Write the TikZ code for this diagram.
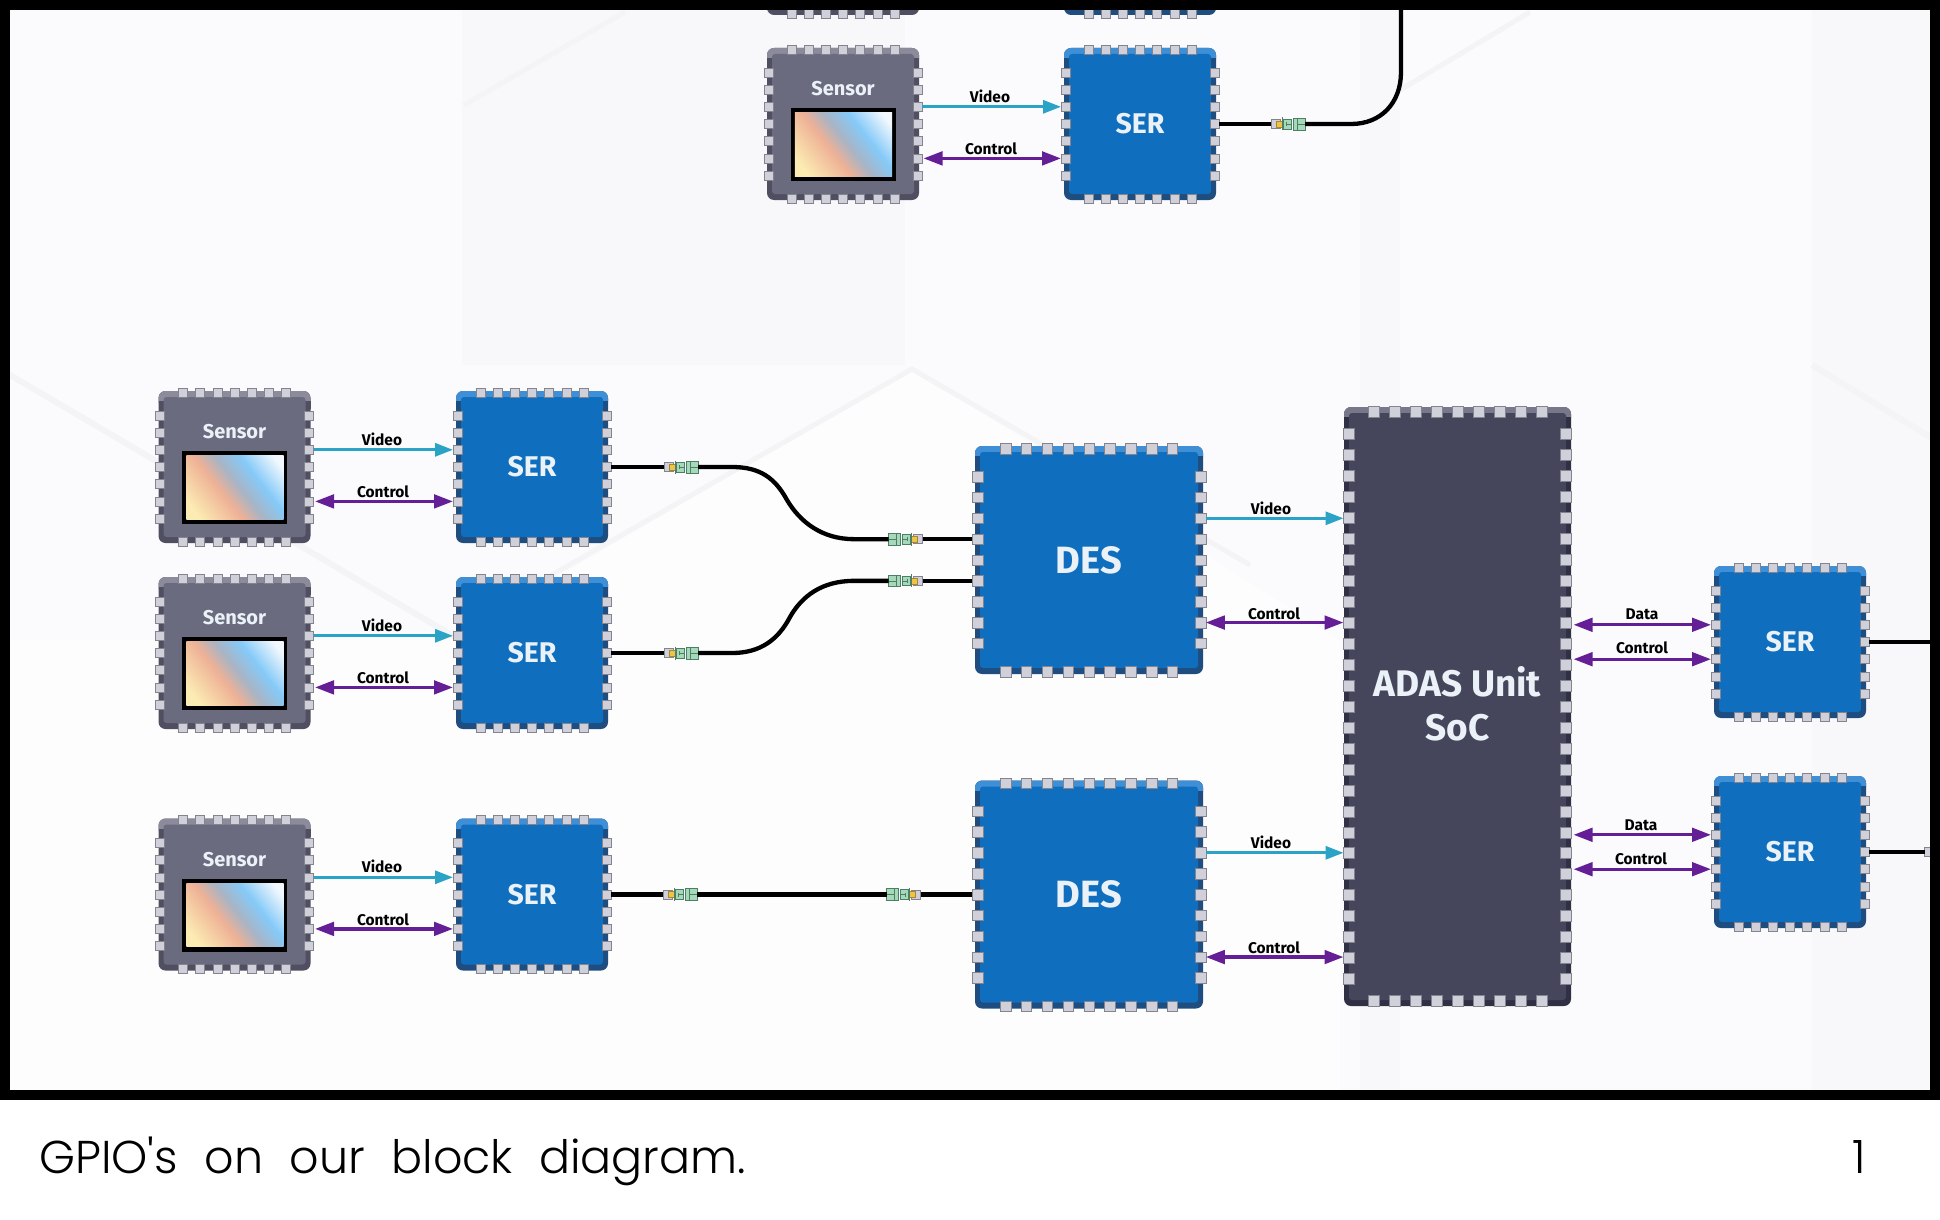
\documentclass[tikz,border=0pt]{standalone}
\usepackage{fontspec}
\setmainfont{Fira Sans}
\newfontfamily\capfont{Poppins Light}[WordSpace=2.1]
\usetikzlibrary{arrows.meta}
\definecolor{bgbase}{HTML}{FBFBFD}
\definecolor{bgfacet}{HTML}{F8F8FB}
\definecolor{bgsoft}{HTML}{FDFDFE}
\definecolor{bgridge}{HTML}{F4F4F7}
\definecolor{pinfill}{HTML}{CFD0D9}
\definecolor{pinedge}{HTML}{83848E}
\definecolor{teal}{HTML}{2AA3C6}
\definecolor{purp}{HTML}{651F96}
\definecolor{bluemain}{HTML}{0F6FBE}
\definecolor{blueedge}{HTML}{1F4D80}
\definecolor{bluehi}{HTML}{3F8FD6}
\definecolor{greymain}{HTML}{6B6B80}
\definecolor{greyedge}{HTML}{4F4F61}
\definecolor{greyhi}{HTML}{8B8B9B}
\definecolor{socmain}{HTML}{45465C}
\definecolor{socedge}{HTML}{2F3044}
\definecolor{sochi}{HTML}{77788A}
\definecolor{labelwhite}{HTML}{EAF1F7}
\definecolor{gA}{HTML}{FCEBB2}
\definecolor{gB}{HTML}{EEB196}
\definecolor{gC}{HTML}{A9B4C4}
\definecolor{gD}{HTML}{85CAF8}
\definecolor{gE}{HTML}{F2F8FD}
\definecolor{plugg}{HTML}{A6D9BA}
\definecolor{plugy}{HTML}{EFC347}
\definecolor{plugl}{HTML}{4D7F66}
\pgfdeclarehorizontalshading{screengrad}{100bp}{color(0bp)=(gA); color(22bp)=(gA); color(42bp)=(gB); color(52bp)=(gC); color(64bp)=(gD); color(80bp)=(gE); color(100bp)=(gE)}
\tikzset{
  x=1pt,y=-1pt,
  pinbox/.style={rectangle,fill=pinfill,draw=pinedge,line width=.5pt,inner sep=0pt,outer sep=0pt},
  chipouter/.style={rectangle,rounded corners=7pt,inner sep=0pt,outer sep=0pt},
  plugbox/.style={rectangle,inner sep=0pt,outer sep=0pt,minimum width=34pt,minimum height=12pt},
  videoarrow/.style={draw=teal,line width=3pt,-{Triangle[length=18pt,width=13pt]}},
  ctrlarrow/.style={draw=purp,line width=3.3pt,{Triangle[length=19pt,width=13.5pt]}-{Triangle[length=19pt,width=13.5pt]}},
  cable/.style={draw=black,line width=4.3pt},
  wirelabel/.style={font=\fontsize{15.5}{17}\selectfont\bfseries,text=black,inner sep=0pt},
  chiplabel/.style={font=\fontsize{28.5}{30}\selectfont\bfseries,text=labelwhite,inner sep=0pt,align=center},
  deslabel/.style={font=\fontsize{38}{40}\selectfont\bfseries,text=labelwhite,inner sep=0pt,align=center},
  soclabel/.style={font=\fontsize{37}{40}\selectfont\bfseries,text=labelwhite,inner sep=0pt,align=center},
  sensorlabel/.style={font=\fontsize{20}{22}\selectfont\bfseries,text=labelwhite,inner sep=0pt},
  caption/.style={font=\capfont\fontsize{46}{50}\selectfont,text=black,inner sep=0pt,anchor=base west},
}
% #1 name #2 cx #3 cy #4 w #5 h #6 n top pins #7 n side pins #8 horizontal step #9 vertical step
\newcommand{\chipgeneric}[9]{%
  \node[chipouter,fill=\colE,minimum width=#4,minimum height=#5] (#1) at (#2,#3) {};
  \fill[\colH,rounded corners=7pt] (#1.north west) rectangle ([yshift=-18pt]#1.north east);
  \fill[\colE] ([yshift=-10pt]#1.north west) rectangle ([yshift=-18pt]#1.north east);
  \fill[\colM,rounded corners=3pt] ([xshift=5pt,yshift=-6pt]#1.north west) rectangle ([xshift=-5pt,yshift=6pt]#1.south east);
  \foreach \i in {1,...,#6}{%
    \pgfmathsetmacro\pxx{#2+(\i-(#6+1)/2)*#8}
    \node[pinbox,minimum size=\pinsz] (#1-T\i) at (\pxx,#3-\pinoffy) {};
    \node[pinbox,minimum size=\pinsz] (#1-B\i) at (\pxx,#3+\pinoffy) {};
  }
  \foreach \i in {1,...,#7}{%
    \pgfmathsetmacro\pyy{#3+(\i-(#7+1)/2)*#9}
    \node[pinbox,minimum size=\pinsz] (#1-L\i) at (#2-\pinoffx,\pyy) {};
    \node[pinbox,minimum size=\pinsz] (#1-R\i) at (#2+\pinoffx,\pyy) {};
  }
}
\newcommand{\serblank}[3]{% name cx cy
  \def\colE{blueedge}\def\colH{bluehi}\def\colM{bluemain}
  \def\pinsz{9pt}\def\pinoffx{74.5}\def\pinoffy{74.5}
  \chipgeneric{#1}{#2}{#3}{152pt}{152pt}{7}{7}{17.2}{17.2}
}
\newcommand{\serchip}[3]{%
  \serblank{#1}{#2}{#3}
  \node[chiplabel] (#1-text) at (#2,#3) {SER};
}
\newcommand{\deschip}[3]{%
  \def\colE{blueedge}\def\colH{bluehi}\def\colM{bluemain}
  \def\pinsz{10.5pt}\def\pinoffx{111.5}\def\pinoffy{111.5}
  \chipgeneric{#1}{#2}{#3}{228pt}{228pt}{9}{9}{20.85}{20.85}
  \node[deslabel] (#1-text) at (#2,#3) {DES};
}
\newcommand{\sensorblank}[3]{%
  \def\colE{greyedge}\def\colH{greyhi}\def\colM{greymain}
  \def\pinsz{9pt}\def\pinoffx{74.5}\def\pinoffy{74.5}
  \chipgeneric{#1}{#2}{#3}{152pt}{152pt}{7}{7}{17.2}{17.2}
}
\newcommand{\sensorchip}[3]{%
  \sensorblank{#1}{#2}{#3}
  \node[sensorlabel] (#1-text) at (#2,#3-35) {Sensor};
  \node[rectangle,fill=black,inner sep=0pt,minimum width=105pt,minimum height=73pt] (#1-screen) at (#2,#3+20.5) {};
  \shade[shading=screengrad,shading angle=38] ([xshift=4.5pt,yshift=-5pt]#1-screen.north west) rectangle ([xshift=-3.5pt,yshift=5pt]#1-screen.south east);
}
\newcommand{\plugpart}[4]{% name x y dir
  \node[plugbox] (#1) at (#2,#3) {};
  \begin{scope}[shift={(#2,#3)},xscale=#4,line width=.5pt]
    \filldraw[fill=pinfill,draw=pinedge] (-17,-4.5) rectangle (-8,4.5);
    \filldraw[fill=plugy,draw=plugy!70!black] (-11.5,-3) rectangle (-5.5,3);
    \filldraw[fill=plugg,draw=plugl] (-4.5,-4.8) rectangle (3,4.8);
    \draw[plugl] (-1.5,0) -- (3,0) (-1.5,-2) -- (-1.5,2);
    \draw[plugl,line width=.9pt] (-5.5,-6.5) -- (-5.5,6.5);
    \filldraw[fill=plugg,draw=plugl] (5,-5.8) rectangle (17,5.8);
    \draw[plugl] (9,-5.8) -- (9,5.8) (9,0) -- (17,0);
  \end{scope}
}
\begin{document}
\begin{tikzpicture}
\useasboundingbox (0,0) rectangle (1940,1220);
% background panel
\fill[bgbase] (0,0) rectangle (1940,1100);
\fill[bgfacet] (462,10) rectangle (905,365);
\fill[bgfacet] (1360,10) rectangle (1400,1090);
\fill[bgfacet] (1812,10) rectangle (1930,1090);
\fill[bgsoft] (10,640) -- (450,640) -- (912,369) -- (1340,640) -- (1340,1090) -- (10,1090) -- cycle;
\draw[bgridge,line width=6pt] (5,372) -- (460,640);
\draw[bgridge,line width=5pt] (480,616) -- (912,369) -- (1250,565);
\draw[bgridge,line width=6pt] (1812,365) -- (1935,440);
\draw[bgridge,line width=5pt] (464,105) -- (625,12);
\draw[bgridge,line width=5pt] (1400,90) -- (1530,12);
% chips
\sensorblank{sT}{843}{-61}
\serblank{serT}{1140}{-61}
\sensorchip{s0}{843}{124}
\serchip{ser0}{1140}{124}
\sensorchip{s1}{234.5}{467}
\serchip{ser1}{532}{467}
\sensorchip{s2}{234.5}{653}
\serchip{ser2}{532}{653}
\sensorchip{s3}{234.5}{894.5}
\serchip{ser3}{532}{894.5}
\deschip{des1}{1089}{560}
\deschip{des2}{1089}{894.5}
\def\colE{socedge}\def\colH{sochi}\def\colM{socmain}
\def\pinsz{11pt}\def\pinoffx{108.5}\def\pinoffy{294.5}
\chipgeneric{soc}{1457.5}{706.5}{227pt}{599pt}{9}{27}{20.95}{20.96}
\node[soclabel] (soc-text) at (1457.5,704) {ADAS Unit\\[4pt]SoC};
\serchip{serA}{1790}{642}
\serchip{serB}{1790}{852}
% sensor to serializer links
\foreach \a/\b/\lx/\ly in {s0/ser0/990/124,s1/ser1/382/467,s2/ser2/382/653,s3/ser3/382/894.5}{%
  \draw[videoarrow] (\a-R3.east) -- (\b-L3.west);
  \draw[ctrlarrow] ([xshift=1.5pt]\a-R6.east) -- (\b-L6.west);
  \node[wirelabel] (\a-v) at (\lx,\ly-28) {Video};
  \node[wirelabel] (\a-c) at (\lx+1,\ly+25) {Control};
}
% plugs
\plugpart{pT}{1288}{124}{1}
\plugpart{p1}{681}{467}{1}
\plugpart{p2}{681}{653}{1}
\plugpart{p3}{680}{894.5}{1}
\plugpart{q1}{905.5}{539.15}{-1}
\plugpart{q2}{905.5}{580.85}{-1}
\plugpart{q3}{903.5}{894.5}{-1}
% cables
\coordinate (topEnd) at (1401,5);
\draw[cable] (ser0-R4.east) -- (pT.west);
\draw[cable] (pT.east) -- (1351,124) .. controls (1381,124) and (1401,103) .. (1401,72) -- (topEnd);
\draw[cable] (ser1-R4.east) -- (p1.west);
\draw[cable] (p1.east) -- (732,467) .. controls (760,467) and (775,478) .. (787,500) .. controls (800,522) and (822,539.15) .. (854,539.15) -- (q1.west);
\draw[cable] (q1.east) -- (des1-L4.west);
\draw[cable] (ser2-R4.east) -- (p2.west);
\draw[cable] (p2.east) -- (732,653) .. controls (760,653) and (778,640) .. (790,617) .. controls (802,596) and (822,580.85) .. (854,580.85) -- (q2.west);
\draw[cable] (q2.east) -- (des1-L6.west);
\draw[cable] (ser3-R4.east) -- (p3.west);
\draw[cable] (p3.east) -- (q3.west);
\draw[cable] (q3.east) -- (des2-L5.west);
\coordinate (aEnd) at (1932,642);
\draw[cable] (serA-R4.east) -- (aEnd);
\node[pinbox,minimum size=9pt] (offPin) at (1929,852) {};
\draw[cable] (serB-R4.east) -- (offPin.west);
% DES to SoC
\draw[videoarrow] (des1-R3.east) -- (des1-R3.east -| soc-L5.west);
\draw[ctrlarrow] (des1-R8.east) -- (des1-R8.east -| soc-L10.west);
\draw[videoarrow] (des2-R3.east) -- (des2-R3.east -| soc-L21.west);
\draw[ctrlarrow] (des2-R8.east) -- (des2-R8.east -| soc-L26.west);
\node[wirelabel] (dv1) at (1271,508) {Video};
\node[wirelabel] (dc1) at (1274,613.5) {Control};
\node[wirelabel] (dv2) at (1271,842.5) {Video};
\node[wirelabel] (dc2) at (1274,947.5) {Control};
% SoC to SER
\draw[ctrlarrow] ([xshift=2pt]soc-R10.east |- serA-L3.west) -- (serA-L3.west);
\draw[ctrlarrow] ([xshift=2pt]soc-R12.east |- serA-L5.west) -- (serA-L5.west);
\draw[ctrlarrow] ([xshift=2pt]soc-R20.east |- serB-L3.west) -- (serB-L3.west);
\draw[ctrlarrow] ([xshift=2pt]soc-R22.east |- serB-L5.west) -- (serB-L5.west);
\node[wirelabel] (da) at (1642,614) {Data};
\node[wirelabel] (ca) at (1642,648) {Control};
\node[wirelabel] (db) at (1641,825) {Data};
\node[wirelabel] (cb) at (1641,859) {Control};
% frame and caption strip
\fill[black] (0,0) rectangle (1940,10);
\fill[black] (0,0) rectangle (10,1100);
\fill[black] (1930,0) rectangle (1940,1100);
\fill[black] (0,1090) rectangle (1940,1100);
\fill[white] (0,1100) rectangle (1940,1220);
\node[caption] (capText) at (39,1173) {GPIO's on our block diagram.};
\node[caption] (capNum) at (1852,1173) {1};
\end{tikzpicture}
\end{document}
